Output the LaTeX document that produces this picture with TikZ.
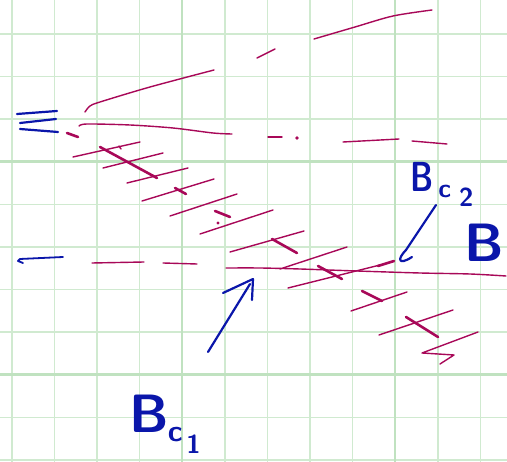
\documentclass[tikz,border=0pt]{standalone}
\usepackage{tikz}
\definecolor{gridgreen}{RGB}{208,234,208}
\definecolor{gridthick}{RGB}{192,226,192}
\definecolor{ink}{RGB}{168,8,88}
\definecolor{pen}{RGB}{10,22,170}
\tikzset{
  thin grid/.style={draw=gridgreen, line width=1.6pt},
  thick grid/.style={draw=gridthick, line width=2.6pt},
  stroke/.style={draw=ink, line width=1.4pt, line cap=round, line join=round},
  tick/.style={draw=ink, line width=2.6pt, line cap=round, line join=round},
  bluestroke/.style={draw=pen, line width=2.2pt, line cap=round, line join=round},
  label/.style={text=pen, font=\sffamily\bfseries, inner sep=0pt, anchor=base west}
}
\begin{document}
\begin{tikzpicture}[x=1pt,y=-1pt]
\useasboundingbox (0,0) rectangle (507,462);
\fill[white] (0,0) rectangle (507,462);
% grid
\foreach \k in {0,...,11} {
  \pgfmathsetmacro{\gx}{11.7+42.6*\k}
  \draw[thin grid] (\gx,0) -- (\gx,462);
}
\foreach \k in {0,...,10} {
  \pgfmathsetmacro{\gy}{34+42.6*\k}
  \draw[thin grid] (0,\gy) -- (507,\gy);
}
\draw[thick grid] (182.1,0) -- (182.1,462);
\draw[thick grid] (395.1,0) -- (395.1,462);
\draw[thick grid] (0,161.8) -- (507,161.8);
\draw[thick grid] (0,374.8) -- (507,374.8);

% top strokes
\draw[stroke] plot[smooth] coordinates {(314,39) (355,27) (393,16) (432,10)};
\draw[stroke] (257,58) -- (275,49);
\draw[stroke] plot[smooth] coordinates {(85,112) (90,106) (100,102) (150,87) (214,70)};
\draw[stroke] plot[smooth] coordinates {(79,126) (87,124) (130,125) (173,128) (213,133) (232,134)};
\draw[tick] (67,133) -- (78,137);
\draw[stroke] (268,137) -- (282,137);
\fill[ink] (297,138) circle (1.8);
\draw[stroke] (343,142) -- (399,139);
\draw[stroke] (412,141) -- (447,144);

% hatched band
\draw[stroke] (73,157) -- (140,142);
\draw[tick] (100,147) -- (157,178);
\draw[stroke] (119,146) -- (121,149);
\draw[stroke] (103,168) -- (163,153);
\draw[stroke] (127,183) -- (188,168);
\draw[stroke] (142,201) -- (214,179);
\draw[tick] (175,188) -- (186,194);
\draw[stroke] (170,216) -- (237,194);
\draw[tick] (215,211) -- (230,217);
\fill[ink] (218,223) circle (1.6);
\draw[stroke] (200,234) -- (273,210);
\draw[stroke] (230,252) -- (304,231);
\draw[tick] (272,239) -- (297,253);
\draw[stroke] (92,263) -- (144,262);
\draw[stroke] (163,263) -- (197,264);
\draw[stroke] plot[smooth] coordinates {(226,268) (260,268) (300,269) (357,271) (420,273) (470,274) (506,276)};
\draw[stroke] (280,269) -- (347,247);
\draw[tick] (318,266) -- (342,279);
\draw[stroke] (288,288) -- (380,265);
\draw[tick] (378,266) -- (394,261);
\draw[stroke] (351,311) -- (407,292);
\draw[tick] (362,291) -- (382,301);
\draw[stroke] (379,335) -- (453,310);
\draw[tick] (406,317) -- (438,337);
\draw[stroke] (478,332) -- (422,353) -- (454,355) -- (440,364);

% blue marks
\draw[bluestroke] (17,114) -- (57,111);
\draw[bluestroke] (20,123) -- (56,119);
\draw[bluestroke] (20,129) -- (58,132);
\coordinate (la) at (63,257);
\coordinate (lb) at (20,259);
\draw[bluestroke, line width=1.8pt] (la) -- (lb) -- (18,261) -- (23,263);

\coordinate (c1s) at (208,352);
\coordinate (c1t) at (253,279);
\draw[bluestroke] (c1s) -- (250,284);
\draw[bluestroke] (223,293) -- (c1t) -- (252,300);

\coordinate (c2s) at (436,205);
\coordinate (c2t) at (406,250);
\draw[bluestroke] (c2s) -- (c2t) .. controls (397,259) and (398,266) .. (412,257);

% labels
\node[label] (bc1) at (129,433) {\fontsize{54}{54}\selectfont B\kern-1pt\raisebox{-9pt}{\fontsize{30}{30}\selectfont c}\kern4pt\raisebox{-21pt}{\fontsize{26}{26}\selectfont 1}};
\node[label] (bc2) at (410,192) {\fontsize{42}{42}\selectfont\scalebox{0.75}[1]{B}\kern5pt\raisebox{-6pt}{\fontsize{26}{26}\selectfont c}\kern8pt\raisebox{-15pt}{\fontsize{26}{26}\selectfont 2}};
\node[label] (bbig) at (464,262) {\fontsize{54}{54}\selectfont B};
\end{tikzpicture}
\end{document}
